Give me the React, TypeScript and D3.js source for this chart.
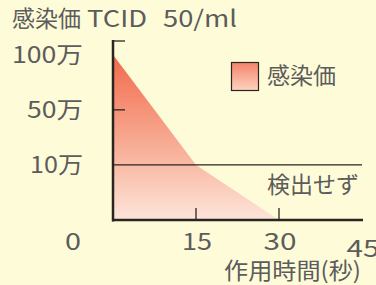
import React from 'react'
import * as d3 from 'd3'

// time (seconds) and titer level index (0 = 0, 1 = 10万, 2 = 50万, 3 = 100万)
const times = [0, 15, 30]
const levels = [3, 1, 0]
const xTicks = [0, 15, 30, 45]
const yLabels = ['10万', '50万', '100万']
const yLabelLevels = [1, 2, 3]

const W = 376
const H = 285
const font = '"Noto Sans CJK JP", "Noto Sans", sans-serif'
const textColor = '#5c5c5c'
const axisColor = '#2b2521'

export default function App() {
  const x = d3.scaleLinear().domain([0, 45]).range([113, 362])
  const y = d3.scaleLinear().domain([0, 3.25]).range([220, 41])

  const pts = times.map((t, i) => [t, levels[i]] as [number, number])
  const area = d3.area<[number, number]>()
    .x(d => x(d[0]))
    .y0(y(0))
    .y1(d => y(d[1]))

  // widths of the labels in the reference (its font has wide digits)
  const yLabelWidth: Record<string, number> = { '10万': 53, '50万': 56, '100万': 71 }
  const xLabelWidth: Record<number, number> = { 0: 16, 15: 30, 30: 33, 45: 33 }

  return (
    <svg width={W} height={H} style={{ position: 'fixed', left: 0, top: 0, display: 'block', background: '#fefbd8', fontFamily: font }}>
      <defs>
        <linearGradient id="fillGrad" x1="0" y1="0" x2="0" y2="1">
          <stop offset="0" stopColor="#f26a4c" />
          <stop offset="0.6" stopColor="#f8b39c" />
          <stop offset="1" stopColor="#fde5da" />
        </linearGradient>
        <linearGradient id="legGrad" x1="0" y1="0" x2="0" y2="1">
          <stop offset="0" stopColor="#f4836a" />
          <stop offset="1" stopColor="#fdd3c0" />
        </linearGradient>
      </defs>

      <text y={27} fontSize={23} fill={textColor}>
        <tspan x={12}>感染価</tspan>
        <tspan x={87} textLength={60} lengthAdjust="spacingAndGlyphs">TCID</tspan>
        <tspan x={163} textLength={74} lengthAdjust="spacingAndGlyphs">50/ml</tspan>
      </text>

      <path d={area(pts) || ''} fill="url(#fillGrad)" />

      {/* 10万 boundary line */}
      <line x1={x(0)} x2={x(45)} y1={y(1)} y2={y(1)} stroke={axisColor} strokeWidth={1.2} />

      {/* y axis */}
      <line x1={x(0)} x2={x(0)} y1={y(3.25) - 1} y2={y(0) + 1.5} stroke={axisColor} strokeWidth={2.5} />
      {[3.25, 2].map(v => (
        <line key={v} x1={x(0)} x2={x(0) + 12} y1={y(v)} y2={y(v)} stroke={axisColor} strokeWidth={1.3} />
      ))}
      {yLabels.map((l, i) => (
        <text key={l} x={83 - yLabelWidth[l]} y={y(yLabelLevels[i]) + 8} fontSize={23} fill={textColor}
          textLength={yLabelWidth[l]} lengthAdjust="spacingAndGlyphs">{l}</text>
      ))}

      {/* x axis */}
      <line x1={x(0) - 1} x2={x(45) + 1} y1={y(0)} y2={y(0)} stroke={axisColor} strokeWidth={2.5} />
      {[15, 30].map(t => (
        <line key={t} x1={x(t)} x2={x(t)} y1={y(0)} y2={y(0) - 12} stroke={axisColor} strokeWidth={1.3} />
      ))}
      {xTicks.map(t => {
        const cx = t === 0 ? 73 : x(t) + 1
        const w = xLabelWidth[t]
        return (
          <text key={t} x={cx - w / 2} y={t === 45 ? 257 : 250} fontSize={23} fill={textColor}
            textLength={w} lengthAdjust="spacingAndGlyphs">{t}</text>
        )
      })}
      <text x={224} y={279} fontSize={23} fill={textColor} textLength={137} lengthAdjust="spacingAndGlyphs">作用時間(秒)</text>

      {/* legend */}
      <rect x={231.5} y={62.5} width={27} height={28} fill="url(#legGrad)" stroke={axisColor} strokeWidth={1.2} />
      <text x={267} y={84} fontSize={23} fill={textColor}>感染価</text>

      <text x={267} y={193} fontSize={23} fill={textColor}>検出せず</text>
    </svg>
  )
}
